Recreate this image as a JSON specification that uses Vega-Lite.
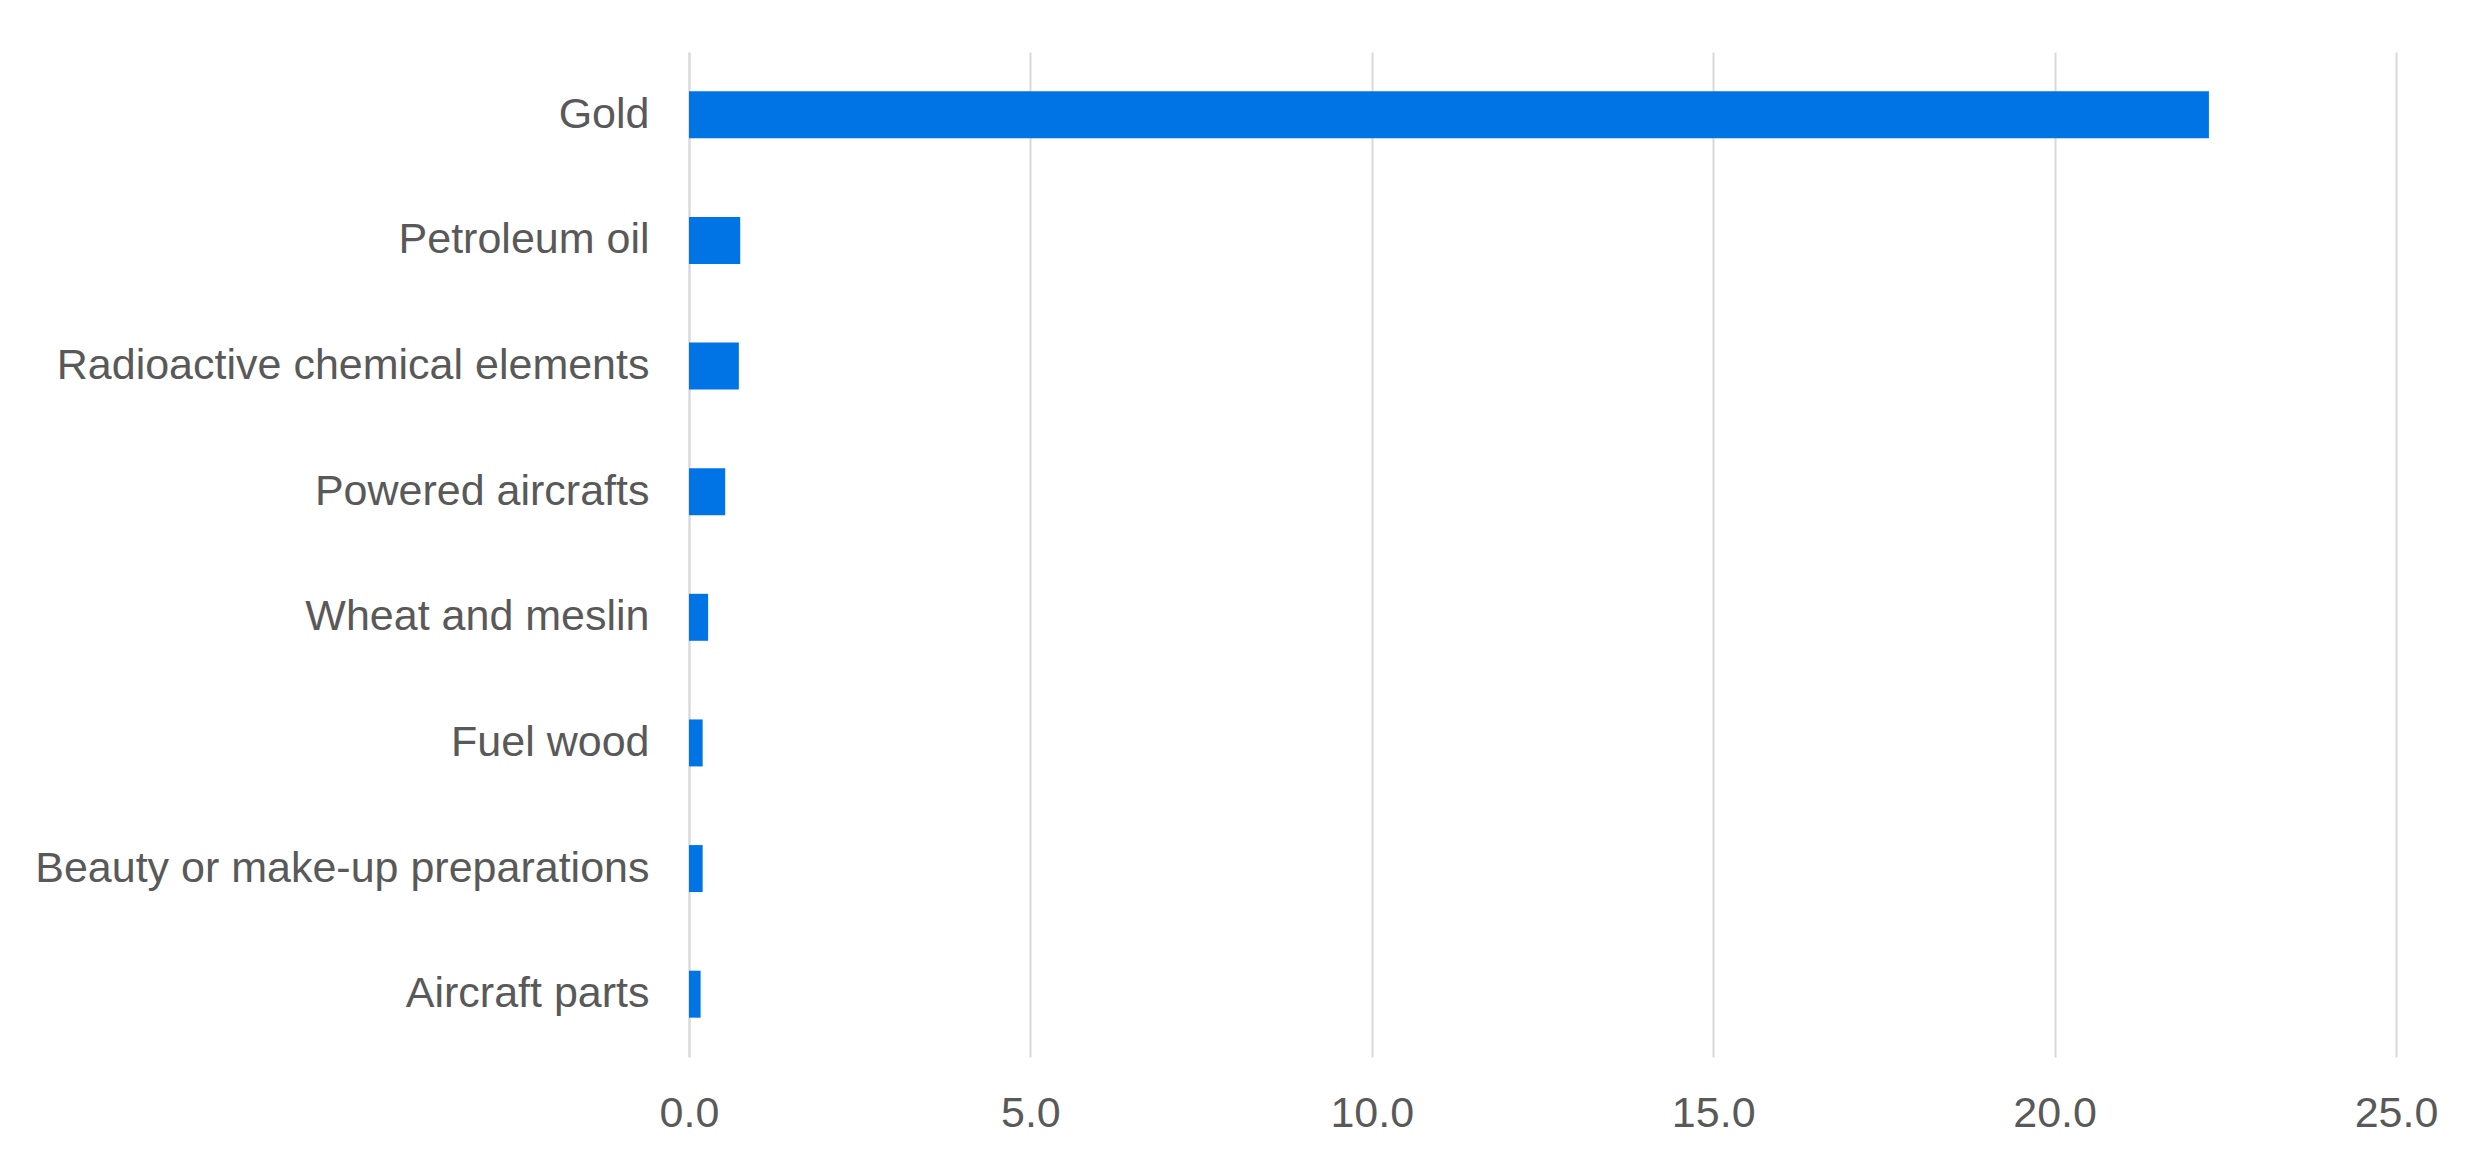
{
  "$schema": "https://vega.github.io/schema/vega-lite/v6.json",
  "autosize": {"type": "none"},
  "padding": {"left": 689, "top": 52, "right": 96, "bottom": 108},
  "width": 1707,
  "height": 1005,
  "background": "white",
  "data": {
    "values": [
      {"product": "Gold", "value": 22.26},
      {"product": "Petroleum oil", "value": 0.75},
      {"product": "Radioactive chemical elements", "value": 0.73},
      {"product": "Powered aircrafts", "value": 0.53},
      {"product": "Wheat and meslin", "value": 0.28},
      {"product": "Fuel wood", "value": 0.2},
      {"product": "Beauty or make-up preparations", "value": 0.2},
      {"product": "Aircraft parts", "value": 0.17}
    ]
  },
  "mark": {"type": "bar", "color": "#0074E5"},
  "encoding": {
    "y": {
      "field": "product",
      "type": "nominal",
      "sort": null,
      "title": null,
      "scale": {"paddingInner": 0.626, "paddingOuter": 0.313},
      "axis": {
        "ticks": false,
        "domain": true,
        "domainColor": "#d9d9d9",
        "domainWidth": 2,
        "labelPadding": 40,
        "labelFontSize": 43,
        "labelFont": "Liberation Sans",
        "labelColor": "#595959",
        "labelLimit": 1000
      }
    },
    "x": {
      "field": "value",
      "type": "quantitative",
      "title": null,
      "scale": {"domain": [0, 25], "nice": false},
      "axis": {
        "values": [0, 5, 10, 15, 20, 25],
        "format": ".1f",
        "ticks": false,
        "domain": false,
        "grid": true,
        "gridColor": "#d9d9d9",
        "gridWidth": 2,
        "labelPadding": 35,
        "labelFontSize": 43,
        "labelFont": "Liberation Sans",
        "labelColor": "#595959",
        "labelAlign": "center",
        "labelBaseline": "top",
        "labelFlush": false
      }
    }
  },
  "config": {
    "view": {"stroke": null}
  }
}
